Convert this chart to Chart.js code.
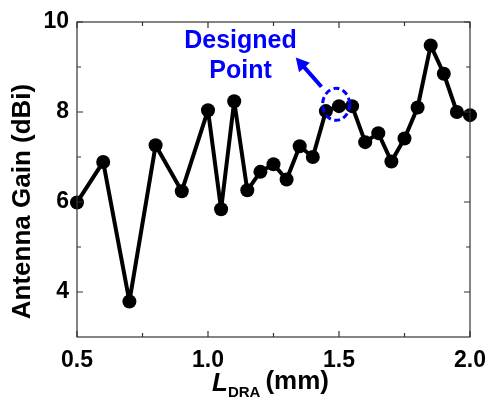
<!DOCTYPE html>
<html>
<head>
<meta charset="utf-8">
<script src="https://cdn.jsdelivr.net/npm/chart.js@4.4.1/dist/chart.umd.min.js"></script>
<style>
    html, body { margin: 0; padding: 0; background: #fff; }
    #wrap { width: 489px; height: 400px; position: relative; }
</style>
</head>
<body>
<div id="wrap"><canvas id="gainChart"></canvas></div>
<script>
// --- Data ---
const lengths = [0.5, 0.6, 0.7, 0.8, 0.9, 1.0, 1.05, 1.1, 1.15, 1.2, 1.25, 1.3, 1.35, 1.4,
                 1.45, 1.5, 1.55, 1.6, 1.65, 1.7, 1.75, 1.8, 1.85, 1.9, 1.95, 2.0];
const gains = [5.99, 6.89, 3.79, 7.26, 6.24, 8.04, 5.84, 8.24, 6.26, 6.67, 6.84, 6.50, 7.24, 7.00,
               8.02, 8.13, 8.13, 7.33, 7.53, 6.90, 7.41, 8.10, 9.48, 8.85, 8.00, 7.93];
const xTicks = [0.5, 1.0, 1.5, 2.0];
const xMinorTicks = [0.75, 1.25, 1.75];
const yTicks = [4, 6, 8, 10];
const yMinorTicks = [5, 7, 9];

// annotation anchor points (data coords)
const designedPoint = { x: 1.489, y: 8.17 };
const arrowFrom = { x: 1.433, y: 8.56 };
const arrowTo = { x: 1.335, y: 9.21 };
const labelPos = { x: 1.124, y1: 9.42, y2: 8.75 };

const FONT = '"Liberation Sans", Arial, sans-serif';
const BLUE = '#0000ff';

// --- Plugin: inward ticks, titles, annotation ---
const decorPlugin = {
    id: 'decor',
    afterDraw(chart) {
        const { ctx, chartArea: a, scales: { x, y } } = chart;
        ctx.save();

        // frame
        ctx.strokeStyle = '#333';
        ctx.lineWidth = 1.2;
        ctx.strokeRect(a.left, a.top, a.right - a.left, a.bottom - a.top);

        // inward ticks on all four sides
        const tickX = (vals, len) => {
            vals.forEach(v => {
                const px = x.getPixelForValue(v);
                ctx.beginPath();
                ctx.moveTo(px, a.bottom); ctx.lineTo(px, a.bottom - len);
                ctx.moveTo(px, a.top); ctx.lineTo(px, a.top + len);
                ctx.stroke();
            });
        };
        const tickY = (vals, len) => {
            vals.forEach(v => {
                const py = y.getPixelForValue(v);
                ctx.beginPath();
                ctx.moveTo(a.left, py); ctx.lineTo(a.left + len, py);
                ctx.moveTo(a.right, py); ctx.lineTo(a.right - len, py);
                ctx.stroke();
            });
        };
        tickX(xTicks, 6); tickX(xMinorTicks, 4);
        tickY(yTicks, 6); tickY(yMinorTicks, 4);

        // y title
        ctx.fillStyle = '#000';
        ctx.font = 'bold 26px ' + FONT;
        ctx.textAlign = 'center';
        ctx.textBaseline = 'middle';
        ctx.translate(23, (a.top + a.bottom) / 2 + 22);
        ctx.rotate(-Math.PI / 2);
        ctx.fillText('Antenna Gain (dBi)', 0, 0);
        ctx.setTransform(1, 0, 0, 1, 0, 0);

        // x title: L_DRA (mm)
        ctx.textAlign = 'left';
        ctx.textBaseline = 'alphabetic';
        const fMain = 'bold 26px ' + FONT;
        const fItal = 'italic bold 26px ' + FONT;
        const fSub = 'bold 15px ' + FONT;
        ctx.font = fItal; const wL = ctx.measureText('L').width;
        ctx.font = fSub; const wS = ctx.measureText('DRA').width;
        ctx.font = fMain; const wM = ctx.measureText('(mm)').width;
        const gap = 5;
        let tx = (a.left + a.right) / 2 - 3 - (wL + wS + gap + wM) / 2;
        const base = 391;
        ctx.font = fItal; ctx.fillText('L', tx, base); tx += wL;
        ctx.font = fSub; ctx.fillText('DRA', tx, base + 6); tx += wS + gap;
        ctx.font = fMain; ctx.fillText('(mm)', tx, base - 2);

        // annotation text
        ctx.fillStyle = BLUE;
        ctx.font = 'bold 25px ' + FONT;
        ctx.textAlign = 'center';
        const lx = x.getPixelForValue(labelPos.x);
        ctx.fillText('Designed', lx, y.getPixelForValue(labelPos.y1));
        ctx.fillText('Point', lx, y.getPixelForValue(labelPos.y2));

        // arrow
        const x1 = x.getPixelForValue(arrowFrom.x), y1 = y.getPixelForValue(arrowFrom.y);
        const x2 = x.getPixelForValue(arrowTo.x), y2 = y.getPixelForValue(arrowTo.y);
        const ang = Math.atan2(y2 - y1, x2 - x1);
        const head = 15;
        ctx.strokeStyle = BLUE;
        ctx.lineWidth = 4;
        ctx.beginPath();
        ctx.moveTo(x1, y1);
        ctx.lineTo(x2 - Math.cos(ang) * head * 0.8, y2 - Math.sin(ang) * head * 0.8);
        ctx.stroke();
        ctx.beginPath();
        ctx.moveTo(x2, y2);
        ctx.lineTo(x2 - head * Math.cos(ang - 0.5), y2 - head * Math.sin(ang - 0.5));
        ctx.lineTo(x2 - head * Math.cos(ang + 0.5), y2 - head * Math.sin(ang + 0.5));
        ctx.closePath();
        ctx.fill();

        // dashed ellipse round the designed point
        ctx.lineWidth = 3;
        ctx.setLineDash([6, 3.5]);
        ctx.beginPath();
        ctx.ellipse(x.getPixelForValue(designedPoint.x), y.getPixelForValue(designedPoint.y), 13.5, 16, 0, 0, Math.PI * 2);
        ctx.stroke();

        ctx.restore();
    }
};

new Chart(document.getElementById('gainChart'), {
    type: 'line',
    data: {
        datasets: [{
            data: lengths.map((l, i) => ({ x: l, y: gains[i] })),
            borderColor: '#000',
            backgroundColor: '#000',
            borderWidth: 4,
            borderJoinStyle: 'round',
            pointRadius: 7,
            pointBorderWidth: 0,
            tension: 0
        }]
    },
    options: {
        responsive: true,
        maintainAspectRatio: false,
        animation: false,
        clip: false,
        layout: { padding: { top: 22, right: 19, left: 0, bottom: 0 } },
        plugins: { legend: { display: false }, tooltip: { enabled: false } },
        scales: {
            x: {
                type: 'linear',
                min: 0.5, max: 2.0,
                afterBuildTicks: s => { s.ticks = xTicks.map(v => ({ value: v })); },
                afterFit: s => { s.height = 63; s.paddingLeft = 0; s.paddingRight = 0; },
                ticks: {
                    color: '#000',
                    font: { family: FONT, size: 23, weight: 'bold' },
                    padding: 10,
                    maxRotation: 0,
                    callback: v => v.toFixed(1)
                },
                grid: { display: false, drawTicks: false },
                border: { display: false }
            },
            y: {
                min: 3, max: 10,
                afterBuildTicks: s => { s.ticks = yTicks.map(v => ({ value: v })); },
                afterFit: s => { s.width = 77; s.paddingTop = 0; s.paddingBottom = 0; },
                ticks: {
                    color: '#000',
                    font: { family: FONT, size: 23, weight: 'bold' },
                    padding: 8
                },
                grid: { display: false, drawTicks: false },
                border: { display: false }
            }
        }
    },
    plugins: [decorPlugin]
});
</script>
</body>
</html>
